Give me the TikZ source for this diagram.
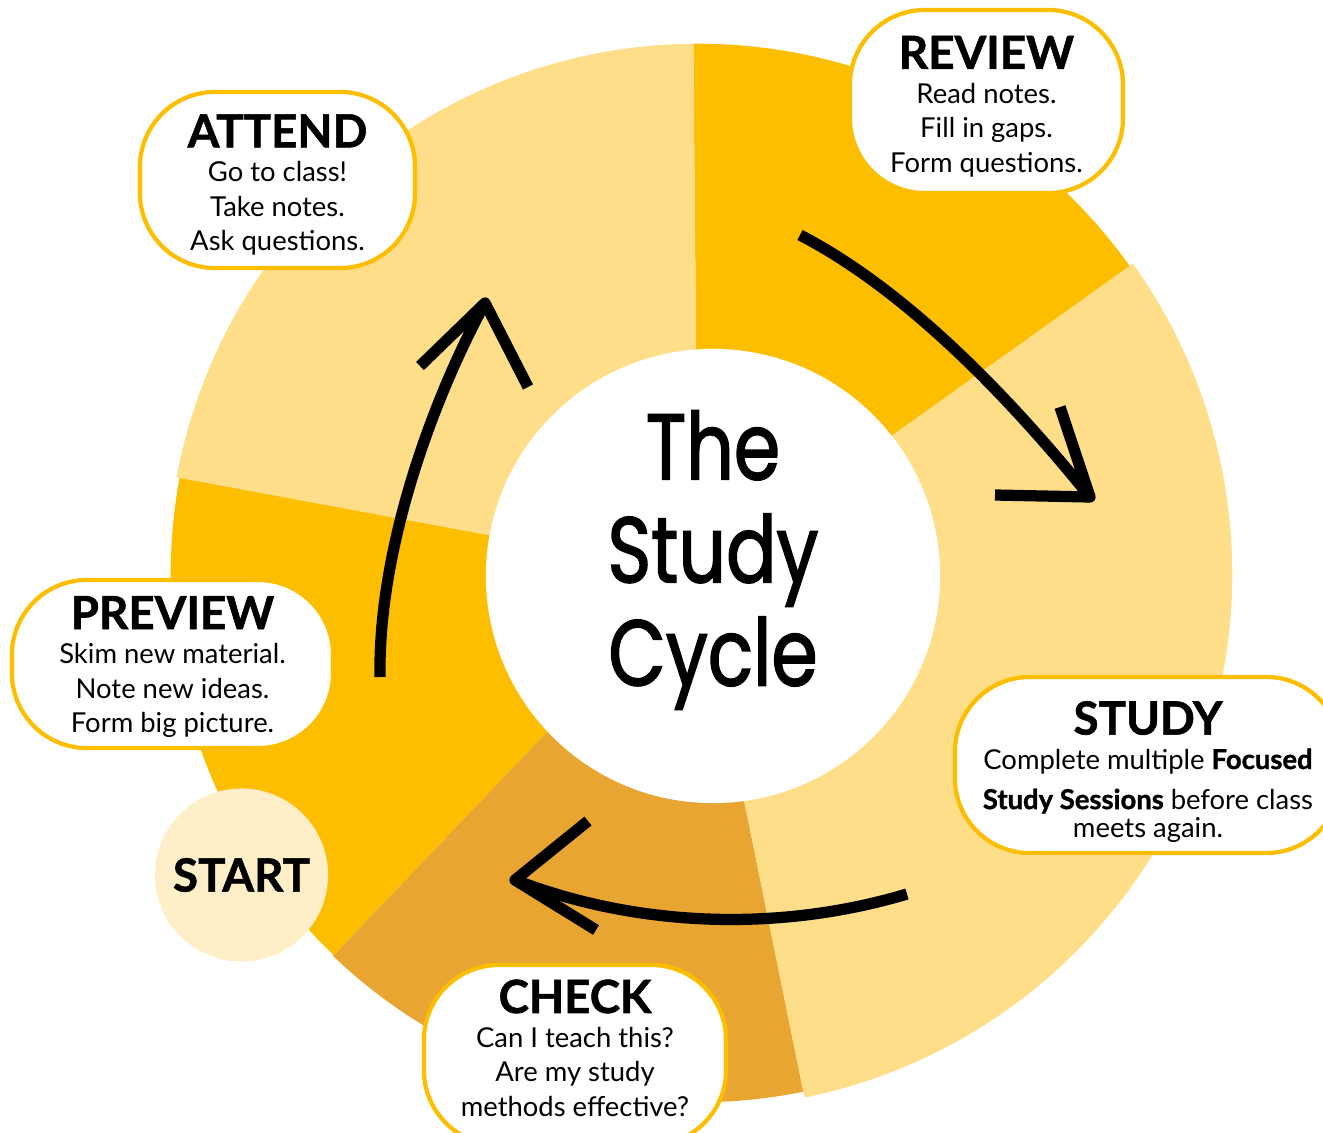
\documentclass[tikz,border=0pt]{standalone}
\usepackage{fontspec}
\setmainfont{Lato}[BoldFeatures={FakeBold=1.2}]
\newfontfamily\cyclefont{Poppins}[FakeStretch=0.8, FakeBold=1.6]
\usepackage{tikz}
\usetikzlibrary{positioning}

\definecolor{paleyellow}{HTML}{FEDE89}
\definecolor{gold}{HTML}{FEBE00}
\definecolor{amber}{HTML}{E8A532}
\definecolor{cream}{HTML}{FEEFC9}

\tikzset{
  stage/.style={rectangle, draw=gold, line width=1.2pt, fill=white,
    rounded corners=0.75cm, align=center, inner sep=0pt,
    font=\fontsize{7.8}{9.8}\selectfont},
  cyclearrow/.style={line width=3.2pt, line join=round},
}
\newcommand{\stagetitle}[2][12.2pt]{{\rule{0pt}{#1}\fontsize{13}{12}\selectfont\bfseries #2}\\[0pt]}

\begin{document}
\begin{tikzpicture}[x=0.01cm, y=-0.01cm]
	\useasboundingbox (0,0) rectangle (1323,1133);
	\coordinate (c) at (698,574);
	% ring segments
	\foreach \from/\to/\rad/\col in {35.5/90.5/5.3/gold, 90.5/169.5/5.3/paleyellow, 169.5/226.3/5.27/gold, 226.3/281.5/5.28/amber, -78.5/35.5/5.34/paleyellow} {
		\fill[\col] (c) -- ++(\from:\rad cm) arc[start angle=\from, end angle=\to, radius=\rad cm] -- cycle;
	};
	\node[circle, fill=white, minimum size=4.54cm, inner sep=0] (hub) at (713,576) {};
	\node[font=\cyclefont\fontsize{26.5}{29.3}\selectfont, align=center] (name) at (713,560) {The\\Study\\Cycle};
	% arrows
	\coordinate (a1s) at (380,677); \coordinate (a1t) at (485,303);
	\coordinate (a1l) at (420,366); \coordinate (a1r) at (528,387);
	\coordinate (a2s) at (800,235); \coordinate (a2t) at (1090,497);
	\coordinate (a2l) at (995,495); \coordinate (a2r) at (1060,407);
	\coordinate (a3s) at (907,894); \coordinate (a3t) at (515,880);
	\coordinate (a3l) at (588,821); \coordinate (a3r) at (596,930);
	\draw[cyclearrow] (a1s) .. controls (378,545) and (435,395) .. (a1t);
	\draw[cyclearrow] (a1l) -- (a1t) -- (a1r);
	\draw[cyclearrow] (a2s) .. controls (910,292) and (1015,404) .. (a2t);
	\draw[cyclearrow] (a2l) -- (a2t) -- (a2r);
	\draw[cyclearrow] (a3s) .. controls (787,930) and (645,930) .. (a3t);
	\draw[cyclearrow] (a3l) -- (a3t) -- (a3r);
	% stages
	\node[stage, minimum width=2.75cm, minimum height=1.76cm] (attend) at (277.5,180) {\stagetitle{ATTEND}Go to class!\\Take notes.\\Ask questions.};
	\node[stage, minimum width=2.73cm, minimum height=1.83cm] (review) at (986.5,101.5) {\stagetitle{REVIEW}Read notes.\\Fill in gaps.\\Form questions.};
	\node[stage, minimum width=3.21cm, minimum height=1.68cm] (preview) at (172.5,664) {\stagetitle[11pt]{PREVIEW}Skim new material.\\Note new ideas.\\Form big picture.};
	\node[stage, minimum width=3.86cm, minimum height=1.76cm] (study) at (1148,765) {\stagetitle[13.5pt]{STUDY}Complete multiple \textbf{Focused}\\[1.6pt]\textbf{Study Sessions} before class\\[-1.6pt]meets again.};
	\node[stage, minimum width=3.02cm, minimum height=1.8cm] (check) at (575,1055) {\stagetitle[0pt]{CHECK}Can I teach this?\\Are my study\\methods effective?\rule[-4pt]{0pt}{0pt}};
	\node[circle, fill=cream, minimum size=1.73cm, inner sep=0, font=\fontsize{13}{13}\selectfont\bfseries] (start) at (241.5,875) {START};
\end{tikzpicture}
\end{document}
